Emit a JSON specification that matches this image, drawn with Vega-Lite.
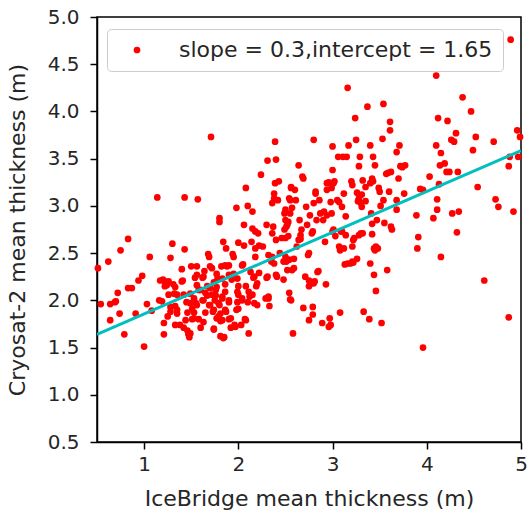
{
  "$schema": "https://vega.github.io/schema/vega-lite/v6.json",
  "width": 424,
  "height": 425,
  "autosize": "none",
  "padding": {"left": 97, "top": 17, "right": 7, "bottom": 71},
  "background": "white",
  "config": {
    "font": "DejaVu Sans",
    "view": {"stroke": "black", "strokeWidth": 1.5},
    "axis": {
      "grid": false,
      "domainColor": "black",
      "domainWidth": 1.5,
      "tickColor": "black",
      "tickWidth": 1.5,
      "tickSize": 7,
      "labelFont": "DejaVu Sans",
      "labelFontSize": 20,
      "labelColor": "#262626",
      "labelFlush": false,
      "labelPadding": 6,
      "titleFont": "DejaVu Sans",
      "titleFontSize": 22,
      "titleFontWeight": "normal",
      "titleColor": "#262626"
    },
    "legend": {
      "orient": "none",
      "legendX": 10,
      "legendY": 12,
      "fillColor": "white",
      "strokeColor": "#cccccc",
      "cornerRadius": 4,
      "padding": 10,
      "symbolType": "circle",
      "symbolSize": 45,
      "symbolStrokeWidth": 0,
      "symbolOffset": 9,
      "labelOffset": 31,
      "labelLimit": 0,
      "labelFont": "DejaVu Sans",
      "labelFontSize": 22,
      "labelColor": "#262626",
      "title": null
    }
  },
  "datasets": {
    "points": [
      {"x":0.51,"y":2.34},{"x":0.54,"y":1.96},{"x":0.64,"y":1.96},{"x":0.62,"y":2.41},{"x":0.64,"y":1.79},{"x":0.70,"y":1.99},{"x":0.72,"y":2.08},{"x":0.74,"y":1.86},{"x":0.75,"y":2.53},{"x":0.79,"y":1.64},
      {"x":0.83,"y":2.65},{"x":0.83,"y":2.13},{"x":0.87,"y":2.13},{"x":0.91,"y":1.86},{"x":0.94,"y":2.21},{"x":0.98,"y":2.26},{"x":1.00,"y":1.51},{"x":1.03,"y":1.96},{"x":1.06,"y":2.46},{"x":1.08,"y":1.89},
      {"x":1.14,"y":3.09},{"x":1.16,"y":2.00},{"x":1.19,"y":1.99},{"x":1.20,"y":2.22},{"x":1.21,"y":1.76},{"x":1.21,"y":1.64},{"x":1.22,"y":2.20},{"x":1.22,"y":2.15},{"x":1.25,"y":1.83},{"x":1.26,"y":2.20},
      {"x":1.28,"y":2.45},{"x":1.28,"y":1.93},{"x":1.30,"y":2.60},{"x":1.31,"y":2.17},{"x":1.32,"y":2.07},{"x":1.33,"y":1.94},{"x":1.33,"y":1.74},{"x":1.35,"y":1.86},{"x":1.40,"y":2.33},{"x":1.41,"y":2.21},
      {"x":1.42,"y":1.71},{"x":1.43,"y":3.09},{"x":1.43,"y":2.54},{"x":1.46,"y":1.87},{"x":1.47,"y":1.64},{"x":1.48,"y":1.61},{"x":1.49,"y":1.65},{"x":1.49,"y":1.97},{"x":1.50,"y":2.36},{"x":1.51,"y":1.80},
      {"x":1.53,"y":1.87},{"x":1.54,"y":2.24},{"x":1.55,"y":1.97},{"x":1.56,"y":2.36},{"x":1.57,"y":3.07},{"x":1.58,"y":2.11},{"x":1.58,"y":1.80},{"x":1.60,"y":1.71},{"x":1.62,"y":2.00},{"x":1.62,"y":2.24},
      {"x":1.64,"y":2.31},{"x":1.65,"y":1.87},{"x":1.65,"y":2.08},{"x":1.67,"y":2.15},{"x":1.68,"y":2.49},{"x":1.69,"y":1.95},{"x":1.70,"y":2.36},{"x":1.71,"y":3.73},{"x":1.72,"y":2.06},{"x":1.73,"y":1.88},
      {"x":1.74,"y":1.69},{"x":1.74,"y":2.19},{"x":1.75,"y":2.00},{"x":1.76,"y":2.11},{"x":1.78,"y":2.23},{"x":1.79,"y":1.83},{"x":1.80,"y":1.95},{"x":1.80,"y":2.87},{"x":1.80,"y":2.83},{"x":1.81,"y":1.78},
      {"x":1.81,"y":1.62},{"x":1.82,"y":2.36},{"x":1.83,"y":2.04},{"x":1.84,"y":2.62},{"x":1.85,"y":1.61},{"x":1.86,"y":2.17},{"x":1.87,"y":1.88},{"x":1.87,"y":2.55},{"x":1.88,"y":2.36},{"x":1.90,"y":1.80},
      {"x":1.90,"y":2.00},{"x":1.92,"y":1.71},{"x":1.93,"y":2.22},{"x":1.94,"y":2.49},{"x":1.96,"y":1.74},{"x":1.98,"y":1.90},{"x":1.98,"y":2.98},{"x":2.00,"y":2.61},{"x":2.00,"y":2.15},{"x":2.03,"y":1.74},
      {"x":2.04,"y":2.00},{"x":2.05,"y":2.38},{"x":2.06,"y":2.80},{"x":2.07,"y":1.80},{"x":2.08,"y":3.19},{"x":2.08,"y":2.15},{"x":2.10,"y":3.00},{"x":2.11,"y":1.65},{"x":2.12,"y":2.04},{"x":2.14,"y":2.62},
      {"x":2.15,"y":2.76},{"x":2.15,"y":2.94},{"x":2.16,"y":2.24},{"x":2.18,"y":2.46},{"x":2.19,"y":2.15},{"x":2.20,"y":1.95},{"x":2.21,"y":2.71},{"x":2.22,"y":2.29},{"x":2.24,"y":3.33},{"x":2.26,"y":2.57},
      {"x":2.30,"y":2.80},{"x":2.30,"y":2.24},{"x":2.31,"y":3.48},{"x":2.32,"y":2.02},{"x":2.33,"y":1.94},{"x":2.35,"y":2.41},{"x":2.36,"y":3.03},{"x":2.37,"y":2.78},{"x":2.38,"y":3.13},{"x":2.39,"y":3.68},
      {"x":2.39,"y":3.24},{"x":2.40,"y":2.64},{"x":2.40,"y":3.49},{"x":2.41,"y":2.25},{"x":2.42,"y":3.06},{"x":2.43,"y":3.26},{"x":2.44,"y":2.50},{"x":2.48,"y":2.22},{"x":2.49,"y":2.75},{"x":2.49,"y":2.92},
      {"x":2.50,"y":2.85},{"x":2.51,"y":2.41},{"x":2.52,"y":2.80},{"x":2.53,"y":2.68},{"x":2.54,"y":2.08},{"x":2.55,"y":2.01},{"x":2.55,"y":3.06},{"x":2.56,"y":3.19},{"x":2.57,"y":2.98},{"x":2.57,"y":2.32},
      {"x":2.58,"y":1.65},{"x":2.59,"y":2.44},{"x":2.60,"y":3.17},{"x":2.61,"y":3.06},{"x":2.62,"y":2.57},{"x":2.64,"y":3.43},{"x":2.65,"y":2.85},{"x":2.66,"y":2.65},{"x":2.67,"y":2.75},{"x":2.68,"y":3.31},
      {"x":2.69,"y":1.92},{"x":2.71,"y":2.25},{"x":2.72,"y":2.99},{"x":2.74,"y":2.48},{"x":2.75,"y":2.15},{"x":2.76,"y":2.90},{"x":2.78,"y":2.71},{"x":2.79,"y":1.85},{"x":2.80,"y":3.70},{"x":2.80,"y":3.03},
      {"x":2.81,"y":2.20},{"x":2.82,"y":3.13},{"x":2.83,"y":2.85},{"x":2.85,"y":2.31},{"x":2.86,"y":3.06},{"x":2.87,"y":2.92},{"x":2.89,"y":1.76},{"x":2.90,"y":2.85},{"x":2.92,"y":2.62},{"x":2.93,"y":2.17},
      {"x":2.94,"y":3.17},{"x":2.96,"y":3.25},{"x":2.97,"y":1.81},{"x":2.98,"y":1.74},{"x":2.99,"y":3.19},{"x":2.99,"y":2.92},{"x":3.00,"y":3.38},{"x":3.00,"y":3.63},{"x":3.01,"y":2.75},{"x":3.02,"y":3.26},
      {"x":3.03,"y":2.68},{"x":3.05,"y":3.06},{"x":3.06,"y":3.52},{"x":3.08,"y":1.87},{"x":3.08,"y":2.53},{"x":3.09,"y":2.73},{"x":3.10,"y":2.99},{"x":3.11,"y":3.52},{"x":3.12,"y":3.13},{"x":3.13,"y":2.38},
      {"x":3.14,"y":2.89},{"x":3.15,"y":3.52},{"x":3.16,"y":4.25},{"x":3.17,"y":3.64},{"x":3.19,"y":2.39},{"x":3.20,"y":3.26},{"x":3.21,"y":2.57},{"x":3.22,"y":2.64},{"x":3.22,"y":2.40},{"x":3.24,"y":3.93},
      {"x":3.25,"y":3.70},{"x":3.26,"y":3.14},{"x":3.27,"y":3.05},{"x":3.28,"y":3.42},{"x":3.29,"y":3.52},{"x":3.30,"y":2.71},{"x":3.31,"y":2.99},{"x":3.31,"y":3.12},{"x":3.32,"y":3.27},{"x":3.33,"y":1.88},
      {"x":3.35,"y":3.05},{"x":3.37,"y":4.05},{"x":3.39,"y":1.80},{"x":3.40,"y":3.64},{"x":3.40,"y":2.39},{"x":3.41,"y":2.92},{"x":3.42,"y":2.70},{"x":3.43,"y":3.52},{"x":3.43,"y":3.26},{"x":3.44,"y":2.27},
      {"x":3.45,"y":2.53},{"x":3.45,"y":3.43},{"x":3.46,"y":2.10},{"x":3.47,"y":2.85},{"x":3.48,"y":2.55},{"x":3.50,"y":3.15},{"x":3.51,"y":3.00},{"x":3.52,"y":1.76},{"x":3.53,"y":3.71},{"x":3.54,"y":4.08},
      {"x":3.54,"y":3.06},{"x":3.55,"y":2.82},{"x":3.58,"y":2.32},{"x":3.59,"y":3.35},{"x":3.60,"y":3.15},{"x":3.61,"y":3.89},{"x":3.61,"y":3.80},{"x":3.62,"y":2.78},{"x":3.62,"y":3.36},{"x":3.63,"y":2.75},
      {"x":3.68,"y":2.96},{"x":3.68,"y":3.06},{"x":3.68,"y":3.57},{"x":3.70,"y":3.29},{"x":3.71,"y":3.64},{"x":3.72,"y":3.42},{"x":3.76,"y":3.13},{"x":3.77,"y":3.43},{"x":3.89,"y":2.90},{"x":3.90,"y":2.55},
      {"x":3.91,"y":2.67},{"x":3.93,"y":3.18},{"x":3.96,"y":1.50},{"x":4.03,"y":3.31},{"x":4.07,"y":2.87},{"x":4.10,"y":4.38},{"x":4.10,"y":3.64},{"x":4.11,"y":3.07},{"x":4.11,"y":2.96},{"x":4.12,"y":3.93},
      {"x":4.14,"y":3.43},{"x":4.15,"y":3.56},{"x":4.15,"y":2.46},{"x":4.19,"y":3.45},{"x":4.21,"y":3.36},{"x":4.22,"y":3.90},{"x":4.24,"y":3.36},{"x":4.26,"y":3.70},{"x":4.27,"y":2.92},{"x":4.29,"y":3.68},
      {"x":4.31,"y":3.77},{"x":4.32,"y":2.72},{"x":4.33,"y":3.36},{"x":4.34,"y":2.94},{"x":4.38,"y":4.15},{"x":4.47,"y":4.00},{"x":4.49,"y":3.59},{"x":4.52,"y":3.73},{"x":4.54,"y":3.20},{"x":4.61,"y":2.21},
      {"x":4.71,"y":3.68},{"x":4.73,"y":3.07},{"x":4.76,"y":2.99},{"x":4.87,"y":3.42},{"x":4.87,"y":1.82},{"x":4.89,"y":4.76},{"x":4.92,"y":2.94},{"x":4.96,"y":3.80},{"x":4.97,"y":3.52},{"x":4.99,"y":3.73},
      {"x":1.95,"y":2.46},{"x":1.69,"y":2.46},{"x":1.56,"y":2.27},{"x":1.63,"y":2.25},{"x":1.72,"y":2.34},{"x":1.86,"y":2.37},{"x":1.90,"y":2.37},{"x":1.77,"y":2.28},{"x":1.83,"y":2.23},{"x":1.90,"y":2.27},
      {"x":1.95,"y":2.28},{"x":1.99,"y":2.23},{"x":1.17,"y":2.21},{"x":1.24,"y":2.16},{"x":1.33,"y":2.14},{"x":1.40,"y":2.20},{"x":0.69,"y":1.98},{"x":1.26,"y":2.06},{"x":1.28,"y":1.88},{"x":1.35,"y":1.90},
      {"x":1.35,"y":2.06},{"x":1.42,"y":2.06},{"x":1.45,"y":1.98},{"x":1.49,"y":2.07},{"x":1.53,"y":2.02},{"x":1.56,"y":2.16},{"x":1.60,"y":2.11},{"x":1.56,"y":1.95},{"x":1.51,"y":1.91},{"x":1.53,"y":1.81},
      {"x":1.44,"y":1.79},{"x":1.38,"y":1.74},{"x":1.46,"y":1.68},{"x":1.63,"y":1.77},{"x":1.63,"y":2.00},{"x":1.67,"y":2.05},{"x":1.70,"y":2.13},{"x":1.77,"y":2.14},{"x":1.76,"y":2.05},{"x":1.70,"y":1.95},
      {"x":1.74,"y":1.90},{"x":1.79,"y":1.97},{"x":1.83,"y":2.02},{"x":1.86,"y":2.09},{"x":1.90,"y":1.98},{"x":1.86,"y":1.90},{"x":1.81,"y":1.86},{"x":1.77,"y":1.81},{"x":1.83,"y":1.79},{"x":1.74,"y":1.70},
      {"x":1.84,"y":1.60},{"x":1.92,"y":1.81},{"x":1.97,"y":1.72},{"x":1.99,"y":2.09},{"x":1.99,"y":1.98},{"x":2.00,"y":1.91},
      {"x":2.18,"y":2.73},{"x":2.38,"y":3.08},{"x":2.54,"y":3.08},{"x":2.50,"y":2.96},{"x":2.55,"y":2.92},{"x":2.53,"y":2.83},{"x":2.51,"y":2.78},{"x":2.36,"y":2.71},{"x":2.73,"y":2.80},{"x":2.91,"y":2.94},
      {"x":2.94,"y":2.90},{"x":2.98,"y":3.04},{"x":3.07,"y":3.04},{"x":3.28,"y":3.08},{"x":3.30,"y":3.03},{"x":3.42,"y":2.81},{"x":2.50,"y":2.66},{"x":2.46,"y":2.66},{"x":2.66,"y":2.69},{"x":2.64,"y":2.64},
      {"x":2.79,"y":2.73},{"x":3.00,"y":2.73},{"x":3.10,"y":2.73},{"x":3.14,"y":2.69},{"x":3.23,"y":2.66},{"x":3.32,"y":2.71},{"x":3.28,"y":2.69},{"x":3.46,"y":2.57},{"x":3.44,"y":2.55},{"x":3.07,"y":2.57},
      {"x":3.12,"y":2.55},{"x":2.18,"y":2.55},{"x":2.22,"y":2.58},{"x":2.06,"y":2.58},{"x":2.32,"y":2.48},{"x":2.36,"y":2.46},{"x":2.04,"y":2.37},{"x":2.38,"y":2.39},{"x":2.50,"y":2.46},{"x":2.54,"y":2.43},
      {"x":2.48,"y":2.41},{"x":2.75,"y":2.50},{"x":3.26,"y":2.44},{"x":3.21,"y":2.41},{"x":3.16,"y":2.39},{"x":2.84,"y":2.30},{"x":2.75,"y":2.21},{"x":2.80,"y":2.18},{"x":2.77,"y":2.18},{"x":2.52,"y":2.32},
      {"x":2.59,"y":2.34},{"x":2.40,"y":2.27},{"x":2.31,"y":2.25},{"x":2.13,"y":2.30},{"x":2.17,"y":2.25},{"x":2.20,"y":2.18},{"x":2.11,"y":2.09},{"x":2.15,"y":2.06},{"x":2.04,"y":2.02},{"x":2.10,"y":1.98},
      {"x":2.17,"y":1.97},{"x":2.00,"y":2.06},{"x":2.32,"y":2.04},{"x":2.29,"y":2.02},{"x":2.56,"y":2.00},{"x":2.79,"y":1.93},{"x":2.75,"y":1.79},{"x":2.96,"y":1.72},{"x":2.08,"y":1.79},
      {"x":2.69,"y":3.29},{"x":2.82,"y":3.15},{"x":2.94,"y":3.24},{"x":3.01,"y":3.24},{"x":3.21,"y":3.22},{"x":3.35,"y":3.20},{"x":3.42,"y":3.29},{"x":3.40,"y":3.24},{"x":3.49,"y":3.19},{"x":2.56,"y":3.20},
      {"x":3.57,"y":3.34},{"x":3.74,"y":3.41},{"x":4.88,"y":3.52},{"x":3.96,"y":3.17},{"x":4.13,"y":3.23}
    ],
    "fit": [{"x": 0.5, "y": 1.64}, {"x": 5.0, "y": 3.585}]
  },
  "layer": [
    {
      "data": {"name": "points"},
      "mark": {"type": "circle", "size": 45, "opacity": 1},
      "encoding": {
        "x": {
          "field": "x", "type": "quantitative",
          "scale": {"domain": [0.5, 5], "nice": false, "zero": false},
          "axis": {"values": [1, 2, 3, 4, 5], "format": "d", "title": "IceBridge mean thickness (m)", "titlePadding": 14, "labelPadding": 5}
        },
        "y": {
          "field": "y", "type": "quantitative",
          "scale": {"domain": [0.5, 5], "nice": false, "zero": false},
          "axis": {"values": [0.5, 1, 1.5, 2, 2.5, 3, 3.5, 4, 4.5, 5], "format": ".1f", "title": "Cryosat-2 mean thickness (m)", "titlePadding": 18, "labelPadding": 11}
        },
        "color": {
          "datum": "slope = 0.3,intercept = 1.65",
          "type": "nominal",
          "scale": {"range": ["#ff0000"]},
          "legend": {}
        }
      }
    },
    {
      "data": {"name": "fit"},
      "mark": {"type": "line", "color": "#00bfbf", "strokeWidth": 3, "clip": true},
      "encoding": {
        "x": {"field": "x", "type": "quantitative"},
        "y": {"field": "y", "type": "quantitative"}
      }
    }
  ]
}
